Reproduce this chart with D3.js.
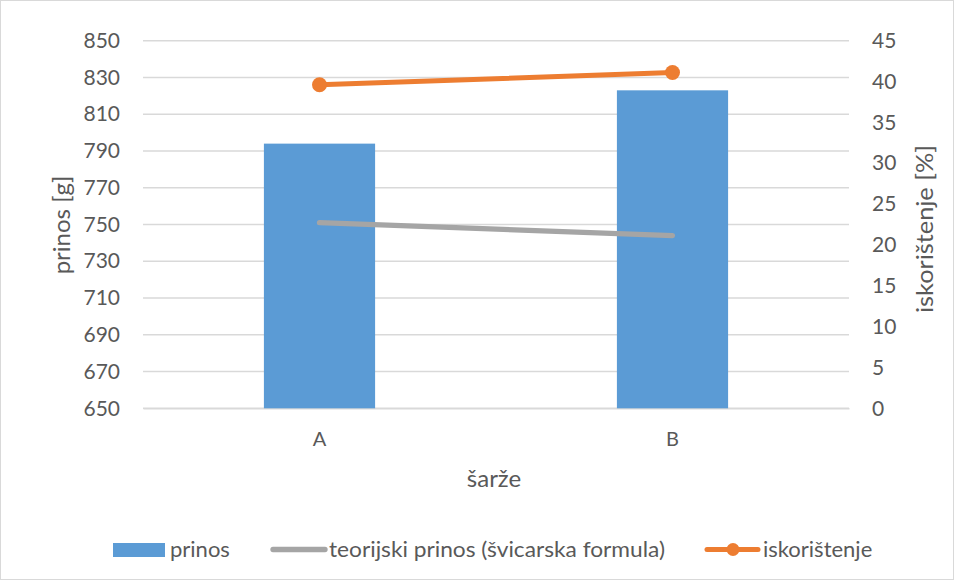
<!DOCTYPE html>
<html><head><meta charset="utf-8">
<script src="https://cdn.jsdelivr.net/npm/d3@7"></script>
<style>body{margin:0;background:#fff}svg{display:block}text{font-family:Lato,"Open Sans",sans-serif;fill:#595959}</style>
</head><body><svg id="c" width="954" height="580"></svg>
<script>
const categories = ["A", "B"];
const prinos = [794, 823];
const teorijski = [751, 744];
const iskoristenje = [39.6, 41.1];
const leftTicks = [650,670,690,710,730,750,770,790,810,830,850];
const rightTicks = [0,5,10,15,20,25,30,35,40,45];
const seriesNames = ["prinos", "teorijski prinos (švicarska formula)", "iskorištenje"];

const svg = d3.select("#c");
const W = 954, H = 580;
const m = {l:143, r:849, t:40.7, b:408.3};
svg.append("rect").attr("x",0.5).attr("y",0.5).attr("width",W-1).attr("height",H-1).attr("fill","#fff").attr("stroke","#d9d9d9");

const x = d3.scaleBand().domain(categories).range([m.l, m.r]).padding(0);
const yL = d3.scaleLinear().domain([650,850]).range([m.b, m.t]);
const yR = d3.scaleLinear().domain([0,45]).range([m.b, m.t]);

// gridlines
svg.append("g").selectAll("line").data(leftTicks).join("line")
  .attr("x1",m.l).attr("x2",m.r).attr("y1",d=>yL(d)).attr("y2",d=>yL(d))
  .attr("stroke","#d9d9d9").attr("stroke-width",1.5);

const tickFont = 21;
// left axis
const la = svg.append("g").attr("transform",`translate(${m.l},0)`)
  .call(d3.axisLeft(yL).tickValues(leftTicks).tickSize(0).tickPadding(23));
la.select(".domain").remove();
la.selectAll("text").attr("font-size",tickFont).attr("fill","#595959").style("font-family","Lato,sans-serif");

// right axis
const ra = svg.append("g").attr("transform",`translate(${m.r},0)`)
  .call(d3.axisRight(yR).tickValues(rightTicks).tickSize(0).tickPadding(23));
ra.select(".domain").remove();
ra.selectAll("text").attr("font-size",tickFont).attr("fill","#595959").style("font-family","Lato,sans-serif");

// bottom axis
const ba = svg.append("g").attr("transform",`translate(0,${m.b})`)
  .call(d3.axisBottom(x).tickSize(0).tickPadding(24));
ba.select(".domain").attr("stroke","#d9d9d9").attr("stroke-width",1.5);
ba.selectAll("text").attr("font-size",20).attr("fill","#595959").style("font-family","Lato,sans-serif");

// bars
const bw = x.bandwidth()*0.315;
svg.append("g").selectAll("rect").data(categories).join("rect")
  .attr("x",d=>x(d)+x.bandwidth()/2-bw/2).attr("width",bw)
  .attr("y",(d,i)=>yL(prinos[i])).attr("height",(d,i)=>yL(650)-yL(prinos[i]))
  .attr("fill","#5b9bd5");

const cx = d => x(d)+x.bandwidth()/2;
// gray line
svg.append("path").datum(categories)
  .attr("d",d3.line().x(d=>cx(d)).y((d,i)=>yL(teorijski[i])))
  .attr("fill","none").attr("stroke","#a5a5a5").attr("stroke-width",5.3).attr("stroke-linecap","round");
// orange line
svg.append("path").datum(categories)
  .attr("d",d3.line().x(d=>cx(d)).y((d,i)=>yR(iskoristenje[i])))
  .attr("fill","none").attr("stroke","#ed7d31").attr("stroke-width",5).attr("stroke-linecap","round");
svg.append("g").selectAll("circle").data(categories).join("circle")
  .attr("cx",d=>cx(d)).attr("cy",(d,i)=>yR(iskoristenje[i])).attr("r",7.5).attr("fill","#ed7d31");

// axis titles
svg.append("text").attr("transform","translate(70,225) rotate(-90)").attr("text-anchor","middle")
  .attr("font-size",24).text("prinos [g]");
svg.append("text").attr("transform","translate(933,229) rotate(-90)").attr("text-anchor","middle")
  .attr("font-size",24).attr("textLength",168).attr("lengthAdjust","spacingAndGlyphs").text("iskorištenje [%]");
svg.append("text").attr("x",494).attr("y",487).attr("text-anchor","middle")
  .attr("font-size",24).text("šarže");

// legend
const lg = svg.append("g");
const ly = 549.5;
const lf = 22;
lg.append("rect").attr("x",113).attr("y",543).attr("width",52).attr("height",14).attr("fill","#5b9bd5");
lg.append("text").attr("x",170).attr("y",557).attr("font-size",lf).text(seriesNames[0]);
lg.append("line").attr("x1",273).attr("x2",325).attr("y1",ly).attr("y2",ly)
  .attr("stroke","#a5a5a5").attr("stroke-width",5.3).attr("stroke-linecap","round");
lg.append("text").attr("x",329).attr("y",557).attr("font-size",lf).attr("textLength",336).attr("lengthAdjust","spacingAndGlyphs").text(seriesNames[1]);
lg.append("line").attr("x1",707).attr("x2",758).attr("y1",ly).attr("y2",ly)
  .attr("stroke","#ed7d31").attr("stroke-width",5).attr("stroke-linecap","round");
lg.append("circle").attr("cx",733).attr("cy",ly).attr("r",6.5).attr("fill","#ed7d31");
lg.append("text").attr("x",763).attr("y",557).attr("font-size",lf).text(seriesNames[2]);
</script></body></html>
